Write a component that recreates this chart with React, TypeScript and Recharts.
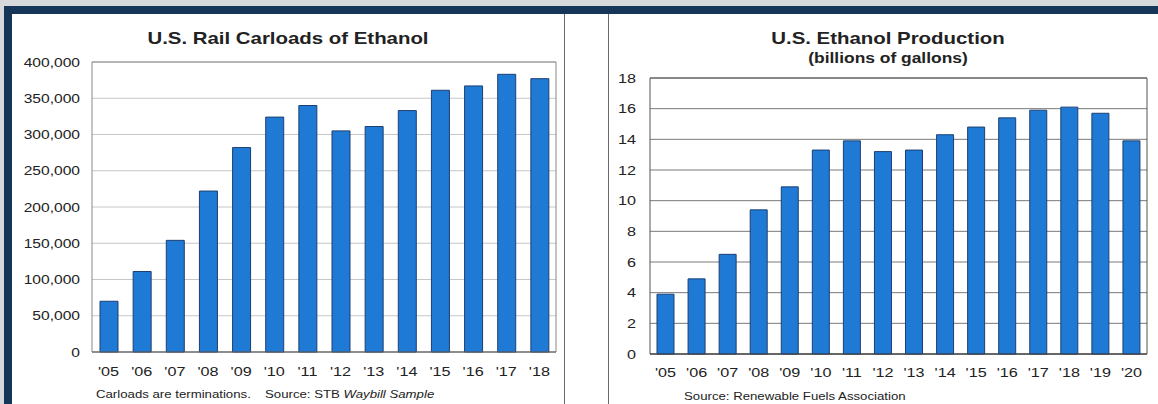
import React from 'react';
import { BarChart, Bar, XAxis, YAxis, CartesianGrid, ReferenceArea } from 'recharts';

const railYears = ["'05", "'06", "'07", "'08", "'09", "'10", "'11", "'12", "'13", "'14", "'15", "'16", "'17", "'18"];
const railCarloads = [70000, 111000, 154000, 222000, 282000, 324000, 340000, 305000, 311000, 333000, 361000, 367000, 383000, 377000];
const railTicks = [0, 50000, 100000, 150000, 200000, 250000, 300000, 350000, 400000];

const ethanolYears = ["'05", "'06", "'07", "'08", "'09", "'10", "'11", "'12", "'13", "'14", "'15", "'16", "'17", "'18", "'19", "'20"];
const ethanolBillions = [3.9, 4.9, 6.5, 9.4, 10.9, 13.3, 13.9, 13.2, 13.3, 14.3, 14.8, 15.4, 15.9, 16.1, 15.7, 13.9];
const ethanolTicks = [0, 2, 4, 6, 8, 10, 12, 14, 16, 18];

const FONT = 'Arial, "Liberation Sans", sans-serif';
const STRETCH = 1.2; // the printed charts use a slightly wide face
const BAR_FILL = '#1f7ad6';
const BAR_EDGE = '#1d3f72';
const TEXT = '#222';

const railData = railYears.map((year, i) => ({ year, carloads: railCarloads[i] }));
const ethanolData = ethanolYears.map((year, i) => ({ year, gallons: ethanolBillions[i] }));

function WideTick({ x, y, payload, anchor, shift, size, fmt }: any) {
  const label = fmt ? fmt(payload.value) : payload.value;
  return (
    <g transform={`translate(${x},${y})`}>
      <text
        transform={`scale(${STRETCH},1)`}
        textAnchor={anchor}
        dy={shift}
        fontSize={size}
        fontFamily={FONT}
        fill={TEXT}
      >
        {label}
      </text>
    </g>
  );
}

function WideText({ left, top, width, size, bold, align, children }: any) {
  return (
    <div
      style={{
        position: 'absolute',
        left,
        top,
        width,
        fontSize: size,
        fontWeight: bold ? 'bold' : 'normal',
        lineHeight: 1,
        color: TEXT,
        textAlign: align || 'left',
        whiteSpace: 'nowrap',
        transform: `scaleX(${STRETCH})`,
        transformOrigin: align === 'center' ? 'center' : 'left',
      }}
    >
      {children}
    </div>
  );
}

const fmtThousands = (v: number) => v.toLocaleString('en-US');

export default function App() {
  return (
    <div
      style={{
        position: 'fixed',
        left: 0,
        top: 0,
        width: 1158,
        height: 404,
        background: '#d6d8db',
        overflow: 'hidden',
        fontFamily: FONT,
      }}
    >
      {/* navy frame and white sheet */}
      <div style={{ position: 'absolute', left: 4, top: 6, right: 0, bottom: 0, background: '#163659' }} />
      <div style={{ position: 'absolute', left: 12, top: 14, right: 0, bottom: 0, background: '#fff' }} />
      <div style={{ position: 'absolute', left: 564, top: 14, bottom: 0, width: 1, background: '#6a6a6a' }} />
      <div style={{ position: 'absolute', left: 608, top: 14, bottom: 0, width: 1, background: '#6a6a6a' }} />

      {/* left panel: rail carloads */}
      <WideText left={12} top={30} width={552} size={17} bold align="center">
        U.S. Rail Carloads of Ethanol
      </WideText>
      <div style={{ position: 'absolute', left: 0, top: 0 }}>
        <BarChart width={564} height={404} data={railData} margin={{ top: 62, right: 8, bottom: 22, left: 0 }}>
          <CartesianGrid vertical={false} stroke="#c6c6c6" />
          <ReferenceArea y1={0} y2={400000} fill="none" stroke="#888" strokeWidth={1} ifOverflow="visible" />
          <XAxis
            dataKey="year"
            height={30}
            tickLine={false}
            tickSize={0}
            tickMargin={14}
            axisLine={{ stroke: '#666' }}
            interval={0}
            tick={(p: any) => <WideTick {...p} anchor="middle" shift="0.71em" size={13.5} />}
          />
          <YAxis
            width={92}
            domain={[0, 400000]}
            ticks={railTicks}
            axisLine={false}
            tickLine={false}
            tickSize={0}
            tickMargin={12}
            tick={(p: any) => <WideTick {...p} anchor="end" shift="0.355em" size={13} fmt={fmtThousands} />}
          />
          <Bar dataKey="carloads" fill={BAR_FILL} stroke={BAR_EDGE} strokeWidth={1} barSize={18} isAnimationActive={false} />
        </BarChart>
      </div>
      <WideText left={95.5} top={388.5} size={11}>
        Carloads are terminations.
      </WideText>
      <WideText left={265} top={388.5} size={11}>
        Source: STB <i>Waybill Sample</i>
      </WideText>

      {/* right panel: ethanol production */}
      <WideText left={618} top={30} width={540} size={17} bold align="center">
        U.S. Ethanol Production
      </WideText>
      <WideText left={618} top={51} width={540} size={14.5} bold align="center">
        (billions of gallons)
      </WideText>
      <div style={{ position: 'absolute', left: 608, top: 0 }}>
        <BarChart width={550} height={404} data={ethanolData} margin={{ top: 78, right: 11, bottom: 20, left: 0 }}>
          <CartesianGrid vertical={false} stroke="#7a7a7a" />
          <ReferenceArea y1={0} y2={18} fill="none" stroke="#555" strokeWidth={1} ifOverflow="visible" />
          <XAxis
            dataKey="year"
            height={30}
            tickLine={false}
            tickSize={0}
            tickMargin={13}
            axisLine={{ stroke: '#444' }}
            interval={0}
            tick={(p: any) => <WideTick {...p} anchor="middle" shift="0.71em" size={13.5} />}
          />
          <YAxis
            width={42}
            domain={[0, 18]}
            ticks={ethanolTicks}
            axisLine={false}
            tickLine={false}
            tickSize={0}
            tickMargin={14}
            tick={(p: any) => <WideTick {...p} anchor="end" shift="0.355em" size={13.5} />}
          />
          <Bar dataKey="gallons" fill={BAR_FILL} stroke={BAR_EDGE} strokeWidth={1} barSize={17} isAnimationActive={false} />
        </BarChart>
      </div>
      <WideText left={683.5} top={390.5} size={11}>
        Source: Renewable Fuels Association
      </WideText>
    </div>
  );
}
